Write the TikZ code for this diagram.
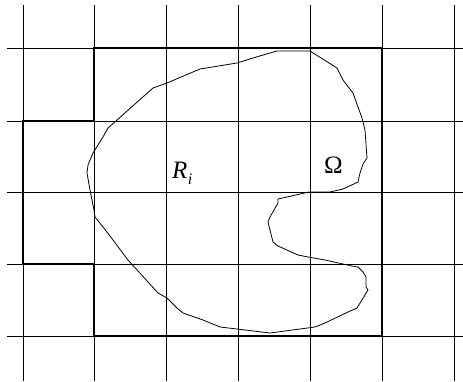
\documentclass[tikz,border=0pt]{standalone}
\usepackage{fontspec}
\setmainfont{Liberation Serif}
\begin{document}
\begin{tikzpicture}[x=1pt,y=-1pt,
  gridline/.style={black, line width=0.8pt},
  regionline/.style={black, line width=1.8pt, line join=miter},
  boundary/.style={black, line width=0.8pt, line join=round},
  label/.style={inner sep=0pt, font=\fontsize{25}{27}\selectfont}]
\useasboundingbox (0,0) rectangle (463,381);
% grid
\foreach \x in {23,94,166,238,310,382,454}
  \draw[gridline] (\x,5) -- (\x,381);
\foreach \y in {48,121,192,264,336}
  \draw[gridline] (7,\y) -- (463,\y);
% union of squares
\draw[regionline] (94,48) -- (382,48) -- (382,336) -- (94,336) -- (94,264)
  -- (23,264) -- (23,121) -- (94,121) -- cycle;
% domain boundary
\draw[boundary] (277,51) -- (310,51) -- (337,68) -- (343,80) -- (353,93)
  -- (362,118) -- (365,130) -- (367,158) -- (363,164) -- (360,173)
  -- (358,182) -- (343,189) -- (330,192) -- (309,192) -- (278,199)
  -- (278,203) -- (270,217) -- (268,222) -- (273,242) -- (278,246)
  -- (298,255) -- (308,257) -- (325,260) -- (352,266) -- (358,267)
  -- (363,272) -- (366,277) -- (366,287) -- (368,290) -- (357,308)
  -- (348,312) -- (325,323) -- (315,327) -- (270,333) -- (237,329)
  -- (220,327) -- (203,320) -- (183,313) -- (177,308) -- (167,298)
  -- (158,293) -- (128,260) -- (113,240) -- (103,227) -- (95,217)
  -- (94,210) -- (90,190) -- (87,173) -- (88,165) -- (93,153)
  -- (103,137) -- (108,128) -- (117,120) -- (153,88) -- (167,83)
  -- (200,69) -- (237,63) -- (253,58) -- (270,53) -- cycle;
% labels
\node[label, anchor=base west] (ri) at (172,178) {\itshape R\kern0.5pt\raisebox{-0.26em}{\fontsize{16}{17}\selectfont i}};
\node[label, anchor=base west] (omega) at (324,173) {Ω};
\end{tikzpicture}
\end{document}
